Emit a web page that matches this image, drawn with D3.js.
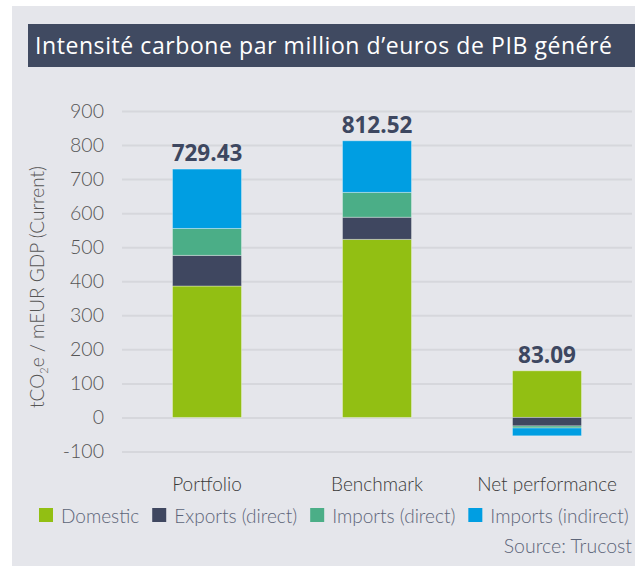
<!DOCTYPE html>
<html>
<head>
<meta charset="utf-8">
<script src="https://cdn.jsdelivr.net/npm/d3@7"></script>
<style>
  body { margin: 0; background: #fff; }
  svg { display: block; }
</style>
</head>
<body>
<div id="chart"></div>
<script>
// data
const categories = ["Portfolio", "Benchmark", "Net performance"]
const seriesNames = ["Domestic", "Exports (direct)", "Imports (direct)", "Imports (indirect)"]
const domestic = [386, 523, 137]
const exportsDirect = [90, 65, -25]
const importsDirect = [79, 73, -6]
const importsIndirect = [174.43, 151.52, -22.91]
const totals = ["729.43", "812.52", "83.09"]
const yTicks = [-100, 0, 100, 200, 300, 400, 500, 600, 700, 800, 900]
const colors = ["#92bf13", "#3f4760", "#4bae87", "#009ee2"]

const width = 635
const height = 566

const rows = categories.map((c, i) => ({
    category: c,
    "Domestic": domestic[i],
    "Exports (direct)": exportsDirect[i],
    "Imports (direct)": importsDirect[i],
    "Imports (indirect)": importsIndirect[i]
}))

const svg = d3.select("#chart")
    .append("svg")
    .attr("width", width)
    .attr("height", height)

// panel + title bar
svg.append("rect")
    .attr("x", 12).attr("y", 6)
    .attr("width", width - 12).attr("height", height - 6)
    .attr("fill", "#e5e6eb")

svg.append("rect")
    .attr("x", 28).attr("y", 24)
    .attr("width", width - 28).attr("height", 43)
    .attr("fill", "#404a61")

svg.append("text")
    .attr("x", 35).attr("y", 54)
    .attr("fill", "#fff")
    .attr("textLength", 577)
    .style("font-family", "'Open Sans', sans-serif")
    .style("font-size", "23px")
    .style("font-weight", 500)
    .text("Intensité carbone par million d’euros de PIB généré")

const x = d3.scaleBand()
    .domain(categories)
    .range([122, 632])
    .paddingInner(0.594)
    .paddingOuter(0.297)

const y = d3.scaleLinear()
    .domain([-100, 900])
    .range([451.5, 111])

// gridlines + tick labels
const yAxis = svg.append("g")
    .attr("transform", "translate(122,0)")
    .call(d3.axisLeft(y).tickValues(yTicks).tickSize(-510).tickPadding(18).tickFormat(d => String(d)))
yAxis.select(".domain").remove()
yAxis.selectAll(".tick line")
    .attr("stroke", "#d6d7dc")
    .attr("stroke-width", 2)
yAxis.selectAll(".tick text")
    .attr("fill", "#555")
    .style("font-family", "Lato, sans-serif")
    .style("font-weight", 300)
    .style("font-size", "19.5px")

// axis title with subscript
const yTitle = svg.append("text")
    .attr("transform", "translate(44,287) rotate(-90)")
    .attr("text-anchor", "middle")
    .attr("fill", "#555")
    .style("font-family", "Lato, sans-serif")
    .style("font-weight", 300)
    .style("font-size", "19px")
yTitle.append("tspan").text("tCO")
yTitle.append("tspan").attr("dy", 4).style("font-size", "11px").text("2")
yTitle.append("tspan").attr("dy", -4).text("e / mEUR GDP (Current)")

// stacked bars
const stack = d3.stack()
    .keys(seriesNames)
    .offset(d3.stackOffsetDiverging)

const layers = svg.append("g")
    .selectAll("g")
    .data(stack(rows))
    .join("g")
    .attr("fill", (d, i) => colors[i])

layers.selectAll("rect")
    .data(d => d)
    .join("rect")
    .attr("x", d => x(d.data.category))
    .attr("width", x.bandwidth())
    .attr("y", d => y(Math.max(d[0], d[1])))
    .attr("height", d => Math.abs(y(d[0]) - y(d[1])))
    .attr("stroke", "rgba(255,255,255,0.35)")
    .attr("stroke-width", 1)

// totals above the bars
const posTop = rows.map(r => d3.sum(seriesNames, k => Math.max(0, r[k])))
svg.append("g")
    .selectAll("text")
    .data(categories)
    .join("text")
    .attr("x", d => x(d) + x.bandwidth() / 2)
    .attr("y", (d, i) => y(posTop[i]) - 8)
    .attr("text-anchor", "middle")
    .attr("fill", "#3d4760")
    .style("font-family", "'Open Sans', sans-serif")
    .style("font-weight", 700)
    .style("font-size", "22.5px")
    .text((d, i) => totals[i])

// category labels
svg.append("g")
    .selectAll("text")
    .data(categories)
    .join("text")
    .attr("x", d => x(d) + x.bandwidth() / 2)
    .attr("y", 491)
    .attr("text-anchor", "middle")
    .attr("fill", "#3a3a3a")
    .style("font-family", "Lato, sans-serif")
    .style("font-weight", 300)
    .style("font-size", "19px")
    .text(d => d)

// legend, laid out one after another
const legend = svg.append("g")
let lx = 39
seriesNames.forEach((name, i) => {
    legend.append("rect")
        .attr("x", lx).attr("y", 508)
        .attr("width", 14).attr("height", 14)
        .attr("fill", colors[i])
    const t = legend.append("text")
        .attr("x", lx + 22).attr("y", 523)
        .attr("fill", "#5d6579")
        .style("font-family", "Lato, sans-serif")
        .style("font-weight", 300)
        .style("font-size", "19px")
        .text(name)
    lx += 22 + t.node().getComputedTextLength() + 13
})

svg.append("text")
    .attr("x", 632).attr("y", 553)
    .attr("text-anchor", "end")
    .attr("fill", "#5d6579")
    .style("font-family", "Lato, sans-serif")
    .style("font-weight", 300)
    .style("font-size", "19.5px")
    .text("Source: Trucost")
</script>
</body>
</html>
